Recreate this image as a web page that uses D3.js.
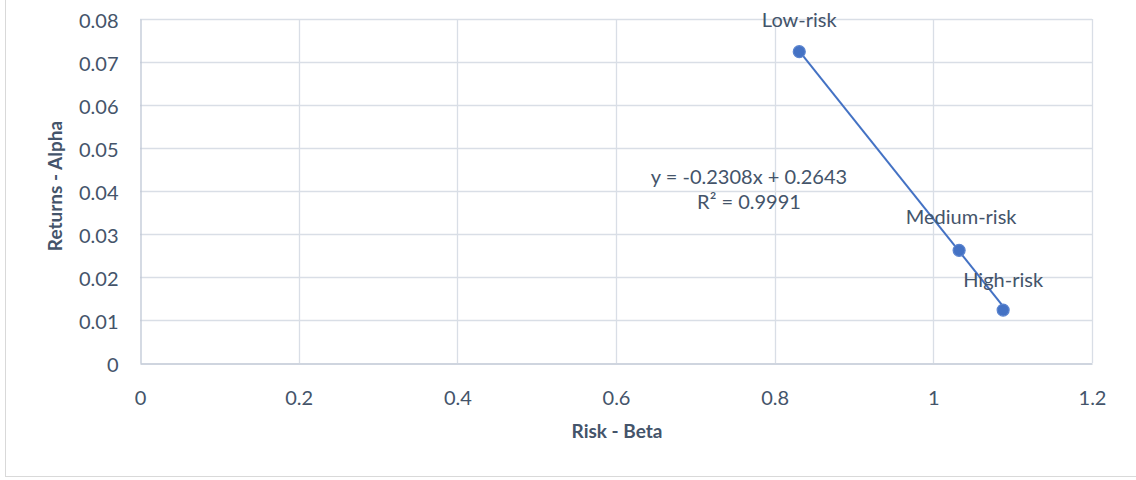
<!DOCTYPE html>
<html>
<head>
<meta charset="utf-8">
<script src="https://cdn.jsdelivr.net/npm/d3@7"></script>
<style>
  html, body { margin: 0; padding: 0; background: #fff; }
  svg { display: block; font-family: Lato, "Open Sans", sans-serif; }
</style>
</head>
<body>
<svg id="chart" width="1136" height="480"></svg>
<script>
// Portfolio risk (beta) versus return (alpha)
const portfolios = ["Low-risk", "Medium-risk", "High-risk"];
const beta = [0.831, 1.0325, 1.088];
const alpha = [0.0724, 0.0262, 0.0123];
const xTicks = [0, 0.2, 0.4, 0.6, 0.8, 1, 1.2];
const yTicks = [0, 0.01, 0.02, 0.03, 0.04, 0.05, 0.06, 0.07, 0.08];
const slope = -0.2308, intercept = 0.2643, rSquared = 0.9991;

const svg = d3.select("#chart");
const W = 1136, H = 480;
const m = { left: 140, right: 1092, top: 19, bottom: 363 };
const textColor = "#44546A";
const gridColor = "#D9DEE6";
const blue = "#4472C4";
const fontSize = "20px";

// outer chart border
svg.append("rect").attr("x", 5.5).attr("y", -2).attr("width", W + 4).attr("height", 480.5 - 2)
  .attr("fill", "none").attr("stroke", "#D9D9D9").attr("stroke-width", 1);

const x = d3.scaleLinear().domain([0, 1.2]).range([m.left, m.right]);
const y = d3.scaleLinear().domain([0, 0.08]).range([m.bottom, m.top]);

// gridlines
svg.append("g").selectAll("line.h").data(yTicks.slice(1)).join("line")
  .attr("x1", m.left).attr("x2", m.right)
  .attr("y1", d => Math.round(y(d)) + 0.5).attr("y2", d => Math.round(y(d)) + 0.5)
  .attr("stroke", gridColor).attr("stroke-width", 1.3);
svg.append("g").selectAll("line.v").data(xTicks.slice(1)).join("line")
  .attr("y1", m.top).attr("y2", m.bottom)
  .attr("x1", d => Math.round(x(d)) + 0.5).attr("x2", d => Math.round(x(d)) + 0.5)
  .attr("stroke", gridColor).attr("stroke-width", 1.3);

// axes
const xAxis = svg.append("g").attr("transform", `translate(0,${Math.round(m.bottom) + 0.5})`)
  .call(d3.axisBottom(x).tickValues(xTicks).tickSize(0).tickPadding(0).tickFormat(d3.format("")));
xAxis.selectAll("text").attr("dy", null).attr("y", 33).attr("dominant-baseline", "central");
const yAxis = svg.append("g").attr("transform", `translate(${m.left + 0.5},0)`)
  .call(d3.axisLeft(y).tickValues(yTicks).tickSize(0).tickPadding(22).tickFormat(d3.format("")));
yAxis.selectAll("text").attr("dy", null).attr("dominant-baseline", "central");
[xAxis, yAxis].forEach(g => {
  g.attr("font-size", null).attr("font-family", null);
  g.select(".domain").attr("stroke", "#BFC7D5").attr("stroke-width", 1.3);
  g.selectAll("text").attr("fill", textColor).style("font-size", fontSize);
});

// axis titles
svg.append("text").attr("x", 617).attr("y", 438).attr("text-anchor", "middle")
  .attr("fill", textColor).style("font-size", "19px").style("font-weight", "bold")
  .text("Risk - Beta");
svg.append("text").attr("transform", "translate(62,186) rotate(-90)").attr("text-anchor", "middle")
  .attr("fill", textColor).style("font-size", "19px").style("font-weight", "bold")
  .text("Returns - Alpha");

// linear trendline across the data range
const xMin = d3.min(beta), xMax = d3.max(beta);
svg.append("line")
  .attr("x1", x(xMin)).attr("y1", y(slope * xMin + intercept))
  .attr("x2", x(xMax)).attr("y2", y(slope * xMax + intercept))
  .attr("stroke", blue).attr("stroke-width", 2);

// points
const pts = portfolios.map((p, i) => ({ name: p, b: beta[i], a: alpha[i] }));
svg.append("g").selectAll("circle").data(pts).join("circle")
  .attr("cx", d => x(d.b)).attr("cy", d => y(d.a)).attr("r", 6)
  .attr("fill", blue).attr("stroke", "#5B84CF").attr("stroke-width", 1.2);

// point labels
const labelOffsets = { "Low-risk": [0, -25], "Medium-risk": [2, -26], "High-risk": [0, -23] };
svg.append("g").selectAll("text").data(pts).join("text")
  .attr("x", d => x(d.b) + labelOffsets[d.name][0])
  .attr("y", d => y(d.a) + labelOffsets[d.name][1])
  .attr("text-anchor", "middle").attr("fill", textColor).style("font-size", fontSize)
  .text(d => d.name);

// trendline equation
const eq = svg.append("text").attr("text-anchor", "middle").attr("fill", textColor).style("font-size", fontSize);
eq.append("tspan").attr("x", 749).attr("y", 184)
  .text(`y = ${slope.toFixed(4)}x + ${intercept.toFixed(4)}`);
eq.append("tspan").attr("x", 749).attr("y", 209)
  .text(`R² = ${rSquared.toFixed(4)}`);
</script>
</body>
</html>
